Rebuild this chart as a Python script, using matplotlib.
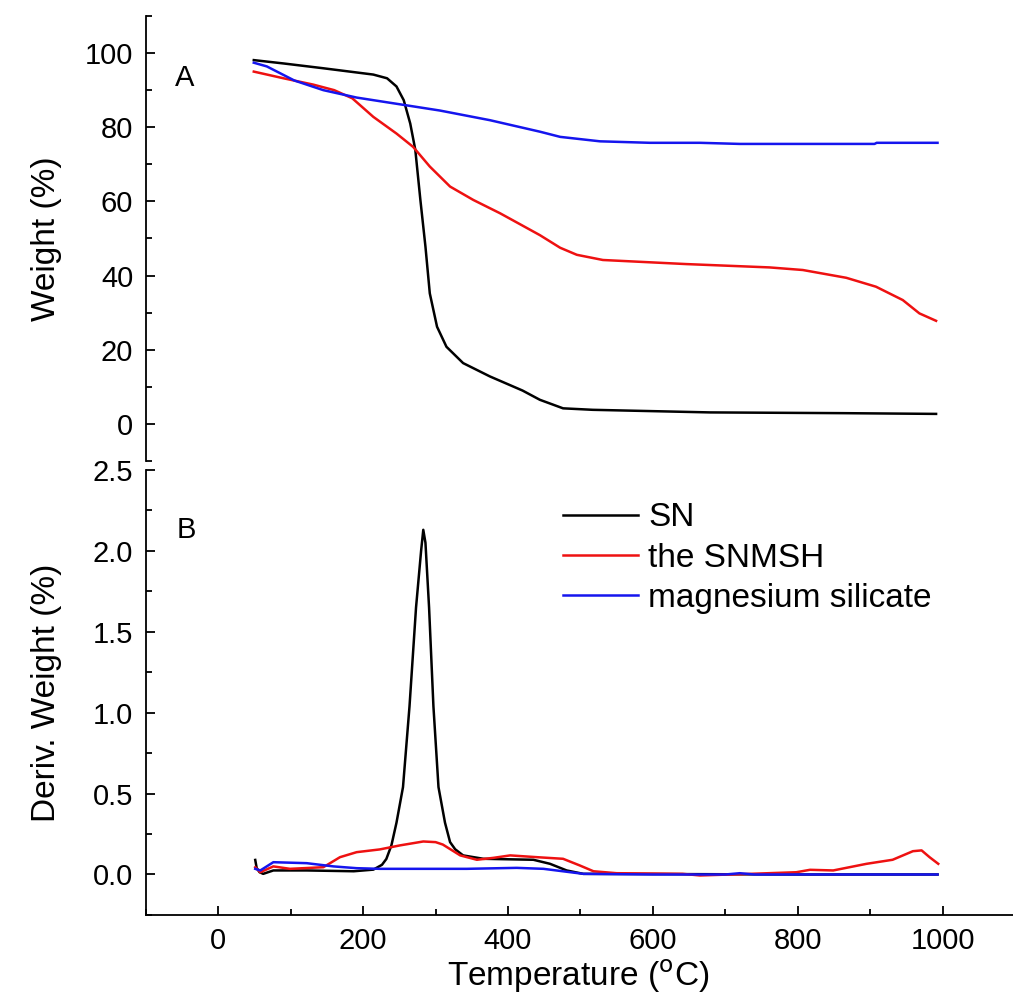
import matplotlib
matplotlib.use("Agg")
import matplotlib.pyplot as plt
from matplotlib.ticker import MultipleLocator

plt.rcParams['font.family'] = ['Liberation Sans', 'DejaVu Sans']

# ---- Panel A: TGA weight (%) ----
sn_T = [49, 90, 145, 214, 233, 246, 256, 265, 272, 279, 286, 292, 302, 315, 338, 375,
        420, 444, 476, 517, 679, 862, 991]
sn_W = [98.1, 97.2, 95.9, 94.2, 93.2, 91.0, 87.3, 81.0, 73.9, 60.4, 47.8, 35.2, 26.2,
        20.8, 16.4, 12.8, 9.0, 6.5, 4.2, 3.8, 3.1, 2.9, 2.7]

snmsh_T = [49, 90, 131, 160, 185, 214, 246, 269, 292, 320, 352, 389, 417, 444, 472, 495,
           531, 646, 761, 807, 867, 908, 945, 968, 991]
snmsh_W = [95.0, 93.2, 91.5, 90.0, 87.8, 82.8, 78.3, 74.7, 69.4, 64.0, 60.4, 56.8, 53.8,
           50.9, 47.5, 45.6, 44.2, 43.1, 42.2, 41.5, 39.4, 37.0, 33.4, 29.8, 27.8]

mg_T = [49, 67, 105, 145, 191, 237, 306, 375, 444, 472, 527, 596, 665, 720, 906, 909, 993]
mg_W = [97.4, 96.4, 92.6, 90.0, 88.0, 86.6, 84.5, 81.9, 78.8, 77.4, 76.2, 75.8, 75.8,
        75.5, 75.5, 75.8, 75.8]

# ---- Panel B: derivative weight (%) ----
sn_dT = [51, 53, 57, 62, 76, 122, 187, 214, 226, 232, 239, 246, 255, 264, 273, 280, 283,
         286, 291, 297, 304, 313, 320, 327, 338, 366, 435, 458, 481, 504, 600, 800, 993]
sn_D = [0.09, 0.04, 0.014, 0.004, 0.025, 0.025, 0.02, 0.03, 0.06, 0.096, 0.18, 0.32, 0.54,
        1.04, 1.65, 2.0, 2.13, 2.05, 1.65, 1.04, 0.54, 0.32, 0.2, 0.156, 0.118, 0.097,
        0.091, 0.066, 0.025, 0.004, 0.003, 0.0, 0.0]

snmsh_dT = [51, 58, 76, 99, 145, 168, 191, 223, 251, 283, 300, 310, 334, 357, 380, 403,
            440, 476, 499, 518, 550, 641, 665, 734, 798, 817, 849, 895, 931, 959, 971,
            982, 994]
snmsh_D = [0.045, 0.014, 0.05, 0.035, 0.045, 0.107, 0.138, 0.155, 0.18, 0.204, 0.2, 0.185,
           0.118, 0.091, 0.103, 0.118, 0.107, 0.097, 0.056, 0.02, 0.008, 0.004, -0.006,
           0.004, 0.014, 0.029, 0.025, 0.066, 0.091, 0.144, 0.149, 0.107, 0.066]

mg_dT = [51, 58, 76, 122, 159, 191, 223, 306, 343, 412, 449, 504, 600, 700, 720, 740, 800, 993]
mg_D = [0.035, 0.025, 0.076, 0.07, 0.05, 0.039, 0.035, 0.035, 0.035, 0.041, 0.035, 0.004,
        0.0, 0.0, 0.008, 0.0, 0.0, 0.0]

labels = ["SN", "the SNMSH", "magnesium silicate"]
colors = ["#000000", "#ee1111", "#1515ee"]

FS_TICK = 21
FS_LAB = 24
fig = plt.figure(figsize=(10.13, 10.05), dpi=100)
axA = fig.add_axes([0.144, 0.5413, 0.858, 0.4428])
axB = fig.add_axes([0.144, 0.0896, 0.858, 0.4428])

lw = 1.8
axA.plot(sn_T, sn_W, color=colors[0], lw=lw)
axA.plot(snmsh_T, snmsh_W, color=colors[1], lw=lw)
axA.plot(mg_T, mg_W, color=colors[2], lw=lw)

axB.plot(sn_dT, sn_D, color=colors[0], lw=lw, label=labels[0])
axB.plot(snmsh_dT, snmsh_D, color=colors[1], lw=lw, label=labels[1])
axB.plot(mg_dT, mg_D, color=colors[2], lw=lw, label=labels[2])

for ax in (axA, axB):
    ax.set_xlim(-100, 1100)
    ax.spines['top'].set_visible(False)
    ax.spines['right'].set_visible(False)
    for s in ax.spines.values():
        s.set_linewidth(1.3)
    ax.tick_params(which='major', direction='in', length=6.5, width=1.3,
                   labelsize=FS_TICK, pad=9)
    ax.tick_params(which='minor', direction='in', length=4, width=1.3)
    ax.xaxis.set_major_locator(MultipleLocator(200))
    ax.xaxis.set_minor_locator(MultipleLocator(100))

axA.spines['bottom'].set_visible(False)
axA.tick_params(axis='x', which='both', bottom=False, labelbottom=False)
axA.set_ylim(-10, 110)
axA.yaxis.set_major_locator(MultipleLocator(20))
axA.yaxis.set_minor_locator(MultipleLocator(10))

axB.set_ylim(-0.25, 2.5)
axB.yaxis.set_major_locator(MultipleLocator(0.5))
axB.yaxis.set_minor_locator(MultipleLocator(0.25))

axA.set_ylabel("Weight (%)", fontsize=FS_LAB)
axA.yaxis.set_label_coords(-0.097, 0.5)
axB.set_ylabel("Deriv. Weight (%)", fontsize=FS_LAB)
axB.yaxis.set_label_coords(-0.097, 0.5)
axB.set_xlabel("Temperature ($^{\\rm o}$C)", fontsize=FS_LAB)
axB.xaxis.set_label_coords(0.497, -0.095)

axA.text(0.045, 0.861, "A", transform=axA.transAxes, fontsize=21,
         ha='center', va='center')
axB.text(0.047, 0.865, "B", transform=axB.transAxes, fontsize=21,
         ha='center', va='center')

axB.legend(loc='upper left', bbox_to_anchor=(0.48, 0.927), frameon=False,
           fontsize=FS_LAB, handlelength=2.25, handletextpad=0.3, labelspacing=0.28,
           borderaxespad=0, borderpad=0)

fig.savefig("out.png", dpi=100)
